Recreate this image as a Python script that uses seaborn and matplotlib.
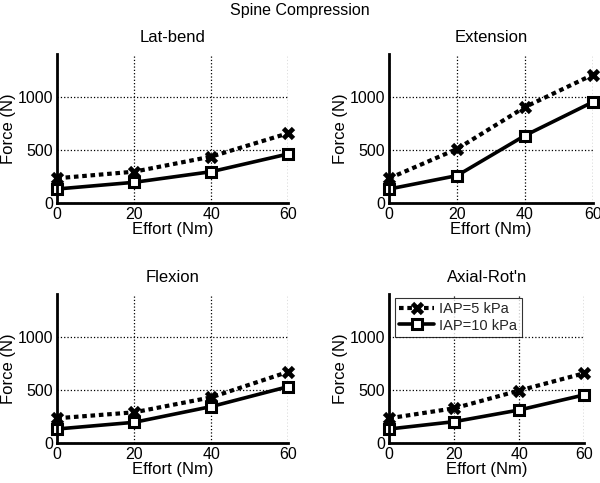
import matplotlib
matplotlib.use("Agg")
import matplotlib.pyplot as plt
import seaborn as sns
import pandas as pd

effort = [0, 20, 40, 60]
panels = ["Lat-bend", "Extension", "Flexion", "Axial-Rot'n"]
iap5_latbend = [233, 295, 437, 657]
iap10_latbend = [132, 195, 295, 462]
iap5_extension = [233, 509, 903, 1207]
iap10_extension = [132, 258, 635, 950]
iap5_flexion = [233, 289, 430, 670]
iap10_flexion = [132, 195, 343, 531]
iap5_axial = [233, 327, 494, 657]
iap10_axial = [132, 201, 311, 453]
series_labels = ["IAP=5 kPa", "IAP=10 kPa"]
xticks = [0, 20, 40, 60]
yticks = [0, 500, 1000]

sns.set_theme(style="white")
plt.rcParams['font.family'] = ['Liberation Sans', 'DejaVu Sans']

fig = plt.figure(figsize=(6, 4.83), dpi=100)
W, H = 600, 483
# pixel boxes: (x0, x1, ytop, ybottom)
boxes = [(57.3, 288.3, 54.3, 203), (389.3, 592.7, 54.3, 203),
         (57.3, 288.3, 294.3, 443), (389.3, 584.3, 294.3, 443)]
data = [(iap5_latbend, iap10_latbend), (iap5_extension, iap10_extension),
        (iap5_flexion, iap10_flexion), (iap5_axial, iap10_axial)]

for i, (name, (s5, s10), (x0, x1, yt, yb)) in enumerate(zip(panels, data, boxes)):
    ax = fig.add_axes([x0 / W, 1 - yb / H, (x1 - x0) / W, (yb - yt) / H])
    sns.lineplot(x=effort, y=s5, ax=ax, color='black', lw=3,
                 marker='x', markersize=7, markeredgewidth=3.4,
                 markeredgecolor='black',
                 label=series_labels[0])
    ax.lines[-1].set_dashes((1.1, 0.9))
    sns.lineplot(x=effort, y=s10, ax=ax, color='black', lw=2.6,
                 marker='s', markersize=7.5, markerfacecolor='white',
                 markeredgecolor='black', markeredgewidth=2.2,
                 label=series_labels[1])
    ax.set_xlim(0, 60)
    ax.set_ylim(0, 1400)
    ax.set_xticks(xticks)
    ax.set_yticks(yticks)
    ax.grid(True, color='black', linestyle=':', linewidth=0.9)
    ax.set_axisbelow(True)
    for s in ['top', 'right']:
        ax.spines[s].set_visible(False)
    for s in ['left', 'bottom']:
        ax.spines[s].set_color('black')
        ax.spines[s].set_linewidth(2.0)
    ax.tick_params(axis='both', labelsize=11.5, length=0, pad=3, colors='black')
    ax.set_xlabel("Effort (Nm)", fontsize=12, labelpad=0, color='black')
    ax.set_ylabel("Force (N)", fontsize=12, labelpad=1, color='black')
    ax.set_title(name, fontsize=12, pad=9, color='black')
    for ln in ax.lines:
        ln.set_clip_on(False)
    if i == 3:
        leg = ax.legend(loc='upper left', bbox_to_anchor=(0.01, 1.0),
                        fontsize=10.5, frameon=True, fancybox=False,
                        handlelength=2.4, handletextpad=0.35,
                        borderpad=0.3, labelspacing=0.15, borderaxespad=0.25)
        leg.get_frame().set_edgecolor('black')
        leg.get_frame().set_linewidth(0.8)
        leg.get_lines()[0].set_dashes((1.1, 0.9))
    else:
        ax.get_legend().remove()

fig.text(0.5, 1 - 11 / H, "Spine Compression", ha='center', va='center',
         fontsize=11.5, color='black')

fig.savefig("out.png", dpi=100, facecolor='white')
